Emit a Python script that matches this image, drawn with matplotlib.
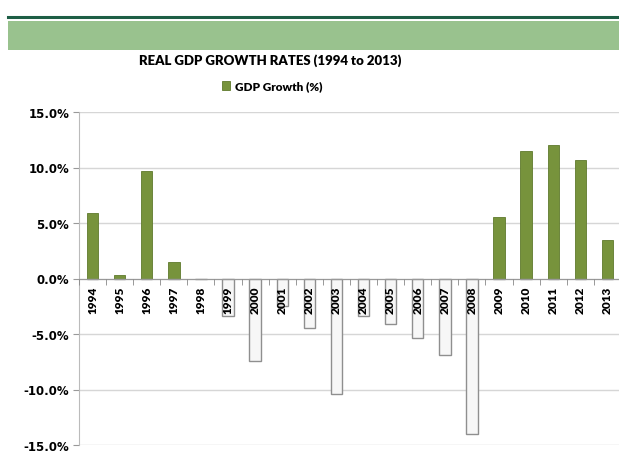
import numpy as np
import matplotlib.pyplot as plt
from matplotlib.patches import Rectangle
from matplotlib.lines import Line2D

years = [str(y) for y in range(1994, 2014)]
growth = [5.9, 0.3, 9.7, 1.5, 0.0, -3.4, -7.4, -2.5, -4.5, -10.4,
          -3.4, -4.1, -5.4, -6.9, -14.0, 5.5, 11.5, 12.0, 10.7, 3.5]
yticks = [-15, -10, -5, 0, 5, 10, 15]

green = '#77933c'

fig = plt.figure(figsize=(6.19, 4.6), dpi=100)

# header decoration
fig.add_artist(Line2D([8/619, 1], [1 - 18/460] * 2, color='#1d5e45', lw=2.2))
fig.add_artist(Rectangle((8/619, 1 - 51/460), 1, 29/460, color='#99c28e', lw=0))

fig.text(0.436, 1 - 61/460, 'REAL GDP GROWTH RATES (1994 to 2013)', ha='center', va='center',
         fontsize=9.5, fontweight='heavy', family='Lato')

ax = fig.add_axes([79/619, 1 - 446/460, 542/619, 333/460])
x = np.arange(len(years))
pos = [v if v > 0 else 0 for v in growth]
neg = [v if v < 0 else 0 for v in growth]
ax.bar(x, pos, width=0.42, color=green, edgecolor='#5f7a2c', lw=0.6, label='GDP Growth (%)', zorder=3)
ax.bar(x, neg, width=0.42, color='#f7f7f7', edgecolor='#8f8f8f', lw=1.0, zorder=3)

ax.set_xlim(-0.5, len(years) - 0.5)
ax.set_ylim(-15, 15)
ax.set_yticks(yticks)
ax.set_yticklabels([f'{t:.1f}%' for t in yticks], fontsize=8.5, fontweight='bold', family='DejaVu Sans')
ax.yaxis.grid(True, color='#d6d6d6', lw=1, zorder=0)
ax.tick_params(axis='y', length=4, color='#999999', pad=3)

ax.spines['bottom'].set_position(('data', 0))
for s in ['top', 'right']:
    ax.spines[s].set_visible(False)
ax.spines['left'].set_color('#bbbbbb')
ax.spines['bottom'].set_color('#999999')
ax.spines['bottom'].set_zorder(4)

ax.set_xticks(x)
ax.set_xticklabels(years, rotation=90, fontsize=8.5, fontweight='heavy', family='Lato', va='top')
ax.tick_params(axis='x', length=0, pad=5)
ax.set_xticks(np.arange(-0.5, len(years)), minor=True)
ax.tick_params(axis='x', which='minor', length=4, color='#888888', direction='out')
ax.xaxis.set_zorder(5)

fig.legend(loc='center', bbox_to_anchor=(0.44, 1 - 87/460), frameon=False,
           handlelength=0.7, handleheight=0.7, handletextpad=0.4,
           prop={'family': 'Lato', 'weight': 'heavy', 'size': 8.5})

fig.savefig('out.png', dpi=100)
